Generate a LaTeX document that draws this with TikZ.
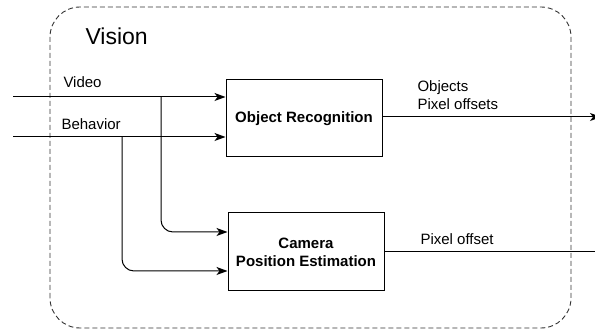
\documentclass[tikz,border=0pt]{standalone}
\usepackage{fontspec}
\setmainfont{Liberation Sans}
\usetikzlibrary{arrows.meta}
\tikzset{
  block/.style={draw, line width=1pt, minimum width=156pt, minimum height=77pt,
    align=center, font=\fontsize{15}{18}\selectfont\bfseries},
  lbl/.style={anchor=base west, inner sep=0pt, align=left, font=\fontsize{15}{18}\selectfont},
}
\begin{document}
\begin{tikzpicture}[x=1pt, y=1pt, >={Stealth[length=11pt,width=8pt,inset=3pt]}, line width=1pt]
    \useasboundingbox (0,0) rectangle (595,331);
    % group frame
    \draw[dashed, dash pattern=on 5pt off 3pt, line width=0.9pt, rounded corners=30pt, black!80]
      (50,3) rectangle (571,324);
    \node[lbl, font=\fontsize{23}{26}\selectfont] (title) at (85,286) {Vision};
    % blocks
    \node[block] (objrec) at (304,212.5) {Object Recognition};
    \node[block, minimum height=78pt] (campos) at (306,79) {Camera\\Position Estimation};
    % inputs
    \coordinate (video) at (13,234);
    \coordinate (behav) at (13,194);
    \node[lbl] (videolbl) at (63,243) {Video};
    \node[lbl] (behavlbl) at (61,201) {Behavior};
    \draw[->] (video) -- (objrec.west |- video);
    \draw[->] (behav) -- (objrec.west |- behav);
    \draw[->, rounded corners=12pt] (161,234) -- (161,99) -- (campos.west |- 0,99);
    \draw[->, rounded corners=12pt] (122,194) -- (122,60) -- (campos.west |- 0,60);
    % outputs
    \coordinate (objout) at (601,214);
    \coordinate (camout) at (612,79);
    \draw[->] (objrec.east |- objout) -- (objout);
    \draw[->] (campos.east) -- (camout);
    \node[lbl] (objlbl) at (417,221) {Objects\\Pixel offsets};
    \node[lbl] (camlbl) at (420,86) {Pixel offset};
\end{tikzpicture}
\end{document}
